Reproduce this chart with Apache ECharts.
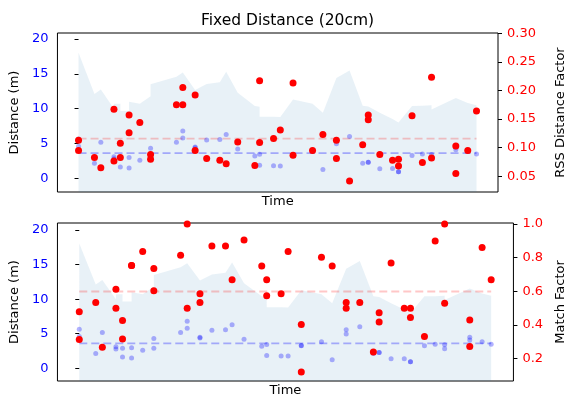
<!DOCTYPE html>
<html>
<head>
<meta charset="utf-8">
<script src="https://cdn.jsdelivr.net/npm/echarts@6/dist/echarts.min.js"></script>
<style>
  html, body { margin: 0; padding: 0; background: #fff; }
  #chart { width: 575px; height: 398px; }
</style>
</head>
<body>
<div id="chart"></div>
<script>
// one entry per sample, both panels share the same time base
const time = [0, 0, 4.0, 5.6, 8.9, 8.9, 10.5, 10.5, 12.7, 12.7, 15.4, 18.1, 18.1, 24.6, 26.2, 26.2,
  29.3, 29.3, 32.2, 35.5, 37.1, 40.0, 44.3, 45.5, 45.5, 49.0, 50.7, 53.9, 53.9, 58.8, 61.4,
  64.8, 64.8, 68.1, 71.4, 72.8, 72.8, 75.7, 78.9, 80.4, 80.4, 83.8, 86.4, 88.7, 88.7, 94.8,
  94.8, 97.8, 100];
const distance = [5.66, 4.61, 2.16, 5.19, 3.11, 2.8, 2.9, 1.63, 2.97, 1.48, 2.6, 4.3, 2.9, 5.19, 6.8, 5.8,
  4.5, 4.4, 5.5, 5.57, 6.3, 4.22, 3.2, 3.46, 1.87, 1.8, 1.77, 3.3, 3.25, 3.85, 1.25,
  5.58, 4.97, 6.0, 2.16, 2.3, 2.3, 1.37, 1.4, 0.95, 0.95, 3.26, 3.48, 3.4, 2.84, 4.5,
  4.1, 3.85, 3.48];
const rssFactor = [0.113, 0.095, 0.083, 0.065, 0.167, 0.077, 0.108, 0.083, 0.157, 0.126, 0.144, 0.088, 0.080, 0.175, 0.205, 0.175,
  0.192, 0.095, 0.081, 0.078, 0.072, 0.110, 0.069, 0.217, 0.109, 0.116, 0.131, 0.213, 0.087, 0.095, 0.123,
  0.113, 0.081, 0.042, 0.105, 0.157, 0.149, 0.088, 0.078, 0.080, 0.068, 0.156, 0.074, 0.223, 0.082, 0.103,
  0.055, 0.095, 0.164];
const matchFactor = [0.479, 0.314, 0.534, 0.267, 0.612, 0.500, 0.427, 0.316, 0.753, 0.753, 0.836, 0.735, 0.603, 0.814, 1.0, 0.500,
  0.585, 0.534, 0.870, 0.870, 0.668, 0.905, 0.751, 0.668, 0.573, 0.585, 0.836, 0.403, 0.121, 0.802, 0.751,
  0.534, 0.500, 0.534, 0.239, 0.473, 0.417, 0.769, 0.500, 0.500, 0.445, 0.332, 0.899, 1.0, 0.529, 0.429,
  0.272, 0.860, 0.668];
// upper edge of the shaded distance band
const distanceUpper = [18.05, 18.05, 12.1, 12.77, 9.98, 10.7, 10.7, 9.65, 9.65, 11.0, 10.7, 11.8, 13.5, 14.6, 15.2, 15.2,
  12.7, 12.7, 13.55, 13.8, 15.3, 12.3, 10.4, 10.27, 8.83, 8.83, 8.8, 11.3, 11.3, 10.7, 9.4,
  14.4, 14.4, 15.5, 10.42, 10.3, 10.23, 9.4, 8.5, 8.0, 8.0, 10.4, 10.42, 10.5, 9.88, 11.55,
  11.55, 10.8, 10.5];
const meanDistance = 3.62;
const meanRss = 0.116;
const meanMatch = 0.599;

const distanceTicks = [0, 5, 10, 15, 20];
const rssTicks = [0.05, 0.10, 0.15, 0.20, 0.25, 0.30];
const matchTicks = [0.2, 0.4, 0.6, 0.8, 1.0];

const FONT = "DejaVu Sans";
const pairs = ys => time.map((t, i) => [t, ys[i]]);
const tStart = time[0];
const tEnd = time[time.length - 1];

function xAxisFor(gridIndex) {
  return {
    type: "value",
    gridIndex: gridIndex,
    min: -5.3,
    max: 105.4,
    name: "Time",
    nameLocation: "middle",
    nameGap: 3,
    nameTextStyle: { color: "#000", fontSize: 13, fontFamily: FONT },
    axisLine: { show: false },
    axisTick: { show: false },
    axisLabel: { show: false },
    splitLine: { show: false }
  };
}

function yAxisFor(gridIndex, opts) {
  return {
    type: "value",
    gridIndex: gridIndex,
    position: opts.position,
    min: opts.min,
    max: opts.max,
    name: opts.name,
    nameLocation: "middle",
    nameRotate: 90,
    nameGap: opts.nameGap,
    nameTextStyle: { color: "#000", fontSize: 13, fontFamily: FONT },
    axisLine: { show: false },
    axisTick: {
      show: true,
      inside: false,
      length: 4,
      customValues: opts.ticks,
      lineStyle: { color: "#000", width: 1 }
    },
    axisLabel: {
      color: opts.color,
      fontSize: 13,
      fontFamily: FONT,
      margin: 9,
      customValues: opts.ticks,
      formatter: opts.formatter
    },
    splitLine: { show: false }
  };
}

function bandSeries(xi, yi) {
  return {
    type: "line",
    xAxisIndex: xi,
    yAxisIndex: yi,
    data: pairs(distanceUpper),
    symbol: "none",
    lineStyle: { width: 0 },
    areaStyle: { color: "rgba(31,119,180,0.1)", origin: "start", opacity: 1 },
    z: 1
  };
}

function meanSeries(xi, yi, value, color) {
  return {
    type: "line",
    xAxisIndex: xi,
    yAxisIndex: yi,
    data: [[tStart, value], [tEnd, value]],
    symbol: "none",
    lineStyle: { color: color, width: 1.8, type: [8, 4] },
    z: 2
  };
}

function dotSeries(xi, yi, ys, color, size, z) {
  return {
    type: "scatter",
    xAxisIndex: xi,
    yAxisIndex: yi,
    data: pairs(ys),
    symbol: "circle",
    symbolSize: size,
    itemStyle: { color: color, opacity: 1 },
    z: z
  };
}

const chart = echarts.init(document.getElementById("chart"), null, { renderer: "canvas" });
chart.setOption({
  animation: false,
  backgroundColor: "#fff",
  title: {
    text: "Fixed Distance (20cm)",
    left: "center",
    top: 8,
    textStyle: { color: "#000", fontSize: 15.5, fontWeight: "normal", fontFamily: FONT }
  },
  grid: [
    { left: 55, top: 33, width: 467, height: 159, show: true, borderColor: "#000", borderWidth: 1, backgroundColor: "transparent" },
    { left: 55, top: 223, width: 467, height: 159, show: true, borderColor: "#000", borderWidth: 1, backgroundColor: "transparent" }
  ],
  xAxis: [xAxisFor(0), xAxisFor(1)],
  yAxis: [
    yAxisFor(0, { position: "left", min: -1.97, max: 20.87, name: "Distance (m)", nameGap: 31,
      ticks: distanceTicks, color: "#0000ff", formatter: v => String(v) }),
    yAxisFor(0, { position: "right", min: 0.0227, max: 0.3003, name: "RSS Distance Factor", nameGap: 56,
      ticks: rssTicks, color: "#ff0000", formatter: v => v.toFixed(2) }),
    yAxisFor(1, { position: "left", min: -1.83, max: 21.0, name: "Distance (m)", nameGap: 31,
      ticks: distanceTicks, color: "#0000ff", formatter: v => String(v) }),
    yAxisFor(1, { position: "right", min: 0.067, max: 1.006, name: "Match Factor", nameGap: 32,
      ticks: matchTicks, color: "#ff0000", formatter: v => v.toFixed(1) })
  ],
  series: [
    bandSeries(0, 0),
    meanSeries(0, 0, meanDistance, "rgba(0,0,255,0.3)"),
    meanSeries(0, 1, meanRss, "rgba(255,0,0,0.22)"),
    dotSeries(0, 0, distance, "rgba(0,0,255,0.3)", 5, 3),
    dotSeries(0, 1, rssFactor, "#ff0000", 7, 4),

    bandSeries(1, 2),
    meanSeries(1, 2, meanDistance, "rgba(0,0,255,0.3)"),
    meanSeries(1, 3, meanMatch, "rgba(255,0,0,0.22)"),
    dotSeries(1, 2, distance, "rgba(0,0,255,0.3)", 5, 3),
    dotSeries(1, 3, matchFactor, "#ff0000", 7, 4)
  ]
});
</script>
</body>
</html>
